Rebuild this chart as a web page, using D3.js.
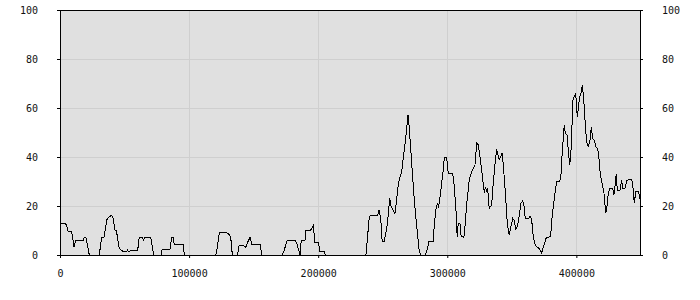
<!DOCTYPE html>
<html>
<head>
<meta charset="utf-8">
<script src="https://cdn.jsdelivr.net/npm/d3@7"></script>
<style>
  body { margin: 0; background: #fff; }
  .tick text { font-family: "DejaVu Sans Mono", monospace; font-size: 10px; fill: #111; }
</style>
</head>
<body>
<script>
(function(){

// positions along the x axis (units) and the values there
var xs = [
    0, 3900, 5200, 6400, 9100, 10800, 12400, 18000, 18800, 20100, 22700,
    30400, 32300, 34100, 36200, 38000, 40000, 41100, 42600, 43600, 45900, 49000,
    51700, 52400, 53400, 55000, 60200, 61400, 63700, 64800, 65800, 70300, 72600,
    78200, 79200, 85200, 86500, 87800, 88500, 95500, 96300,
    120600, 121800, 123400, 129100, 130900, 132200, 133500,
    137600, 138700, 142500, 143800, 145900, 147200, 148700, 155500, 155900,
    172200, 173700, 176100, 182300, 183800, 185900, 186900, 189800, 190600,
    194200, 195200, 196200, 197500, 200100, 201400, 204700, 205500,
    237000, 239600, 240700, 246100, 247300, 248600, 249600, 251000, 253100,
    254300, 255400, 256200, 258200, 259500, 260300, 262000, 263400, 264700,
    265900, 267200, 268600, 269600, 270300, 271300, 272900, 274200, 275500,
    276800, 278300, 279400, 282700, 284000, 285800, 289200, 289900, 291300,
    292300, 293300, 294600, 296100, 296900, 297700, 299500, 300800, 304200,
    305200, 306700, 307700, 308500, 309800, 310800, 312900, 313700, 315000,
    317000, 318900, 320700, 321400, 322800, 324000, 325300, 326700, 327900,
    328700, 329400, 330500, 331300, 332500, 334400, 335600, 337000, 338300,
    339100, 340300, 341400, 342600, 343900, 345200, 346500, 348000, 349300,
    350700, 351700, 353200, 354500, 355800, 357100, 358400, 359400, 360400,
    363100, 364100, 365400, 366600, 368200, 369700, 371300, 373100, 374900,
    376500, 377800, 379600, 380300, 381300, 382100, 383400, 384700, 386500,
    387300, 388100, 389100, 390100, 390600, 391400, 392700, 393700, 394800,
    395600, 396400, 397100, 398200, 399500, 400700, 401500, 402600, 403600,
    404600, 405400, 406200, 406900, 408000, 409200, 410500, 411600, 412600,
    413900, 415000, 416500, 417500, 418500, 420100, 421400, 422200, 422700,
    423700, 424700, 426000, 428100, 429100, 429900, 430900, 431700, 433800,
    435100, 435900, 437700, 439000, 440200, 442300, 443300, 444100, 444900,
    446000, 448000, 449300
];
var ys = [
    13, 13, 12, 9.5, 9.5, 3.4, 6.1, 6.1, 7.2, 7.2, 0,
    0, 7.2, 7.2, 14.3, 15.6, 16.2, 15, 10.2, 10.2, 2.7, 1.4,
    1.4, 2, 1.2, 2, 2, 7.2, 7.2, 6.1, 7.2, 7.2, 0,
    0, 2.3, 2.3, 7.2, 7.2, 4.1, 4.1, 0,
    0, 2.7, 9.2, 9.2, 8.4, 7.5, 0,
    0, 3.8, 3.8, 3.1, 5.8, 7.2, 4.1, 4.1, 0,
    0, 2, 6.1, 6.1, 4.1, 0, 6.1, 6.1, 10.2,
    10.2, 10.9, 12, 5.3, 5.3, 1.4, 1.4, 0,
    0, 15.6, 16.3, 16.3, 18.5, 13.6, 5.4, 5.4, 10.9,
    16.3, 23.1, 20.4, 18, 17, 20.4, 28.6, 32, 34,
    39.5, 44.9, 51.7, 57.1, 53.7, 46.3, 34, 24.5, 16.3,
    9.5, 1.4, 0, 0, 1.4, 5.4, 5.4, 12.2, 19,
    21, 19.7, 24.5, 31.3, 34.7, 39.8, 39.8, 33.1, 33.1,
    29.2, 19, 7.2, 12.9, 12.9, 7.5, 7.2, 11.6, 20.4,
    30.6, 34, 35.8, 36.3, 45.8, 44.9, 40.1, 34.7, 28.6,
    25.4, 27.6, 26.3, 27.2, 19, 20.4, 29.2, 37.4, 43.1,
    41.2, 39, 40.1, 41.8, 33.3, 23.8, 12.9, 8.2, 11.6,
    14.9, 14.3, 10.5, 12.2, 16.3, 21.1, 22, 20.4, 14.9,
    14.9, 15.9, 14.3, 7.5, 4.1, 3.1, 2.7, 0.9, 4.1,
    6.8, 7.2, 7.5, 9.5, 16.3, 19.7, 25.2, 29.9, 29.9,
    30.6, 32.7, 42.2, 49, 53.1, 49.7, 49.2, 42.9, 36.7,
    40.1, 48.3, 62.6, 64.6, 66, 56.5, 59.9, 64.6, 66,
    69.4, 65.3, 59.9, 53.1, 46.3, 44.2, 46.3, 52.4, 47.6,
    46.9, 44.2, 43.5, 39.5, 33.3, 28.6, 25.2, 20.4, 17,
    19.7, 25.2, 27.2, 27.2, 24.5, 27.9, 32.9, 26.5, 26.5,
    30.6, 27.2, 27.2, 30.3, 30.6, 30.9, 29.9, 26.5, 21.1,
    25.9, 25.9, 23.1
];
var xTicks = [0, 100000, 200000, 300000, 400000];
var yTicks = [0, 20, 40, 60, 80, 100];
var xMax = 449300, yMax = 100;

var width = 700, height = 300,
    margin = {top: 10, right: 60, bottom: 45, left: 60},
    innerW = width - margin.left - margin.right,
    innerH = height - margin.top - margin.bottom;

var svg = d3.select("body").append("svg")
    .attr("width", width)
    .attr("height", height);

var g = svg.append("g")
    .attr("transform", "translate(" + margin.left + "," + margin.top + ")");

var x = d3.scaleLinear().domain([0, xMax]).range([0, innerW]);
var y = d3.scaleLinear().domain([0, yMax]).range([innerH, 0]);

// plot background
g.append("rect")
    .attr("width", innerW)
    .attr("height", innerH)
    .style("fill", "#e0e0e0");

// grid lines
g.selectAll(".vgrid").data(xTicks).enter().append("line")
    .attr("x1", d => Math.round(x(d)) + 0.5).attr("x2", d => Math.round(x(d)) + 0.5)
    .attr("y1", 0).attr("y2", innerH)
    .style("stroke", "#cfcfcf");
g.selectAll(".hgrid").data(yTicks).enter().append("line")
    .attr("y1", d => Math.round(y(d)) + 0.5).attr("y2", d => Math.round(y(d)) + 0.5)
    .attr("x1", 0).attr("x2", innerW)
    .style("stroke", "#cfcfcf");

// the series, drawn without smoothing like the original
var pts = xs.map((v, i) => [v, ys[i]]);
var line = d3.line()
    .x(d => x(d[0]))
    .y(d => y(d[1]));
g.append("path")
    .datum(pts)
    .attr("d", line)
    .attr("shape-rendering", "crispEdges")
    .style("fill", "none")
    .style("stroke", "#000")
    .style("stroke-width", 1);

// frame
g.append("rect")
    .attr("x", 0.5).attr("y", 0.5)
    .attr("width", innerW).attr("height", innerH)
    .style("fill", "none")
    .style("stroke", "#000")
    .attr("shape-rendering", "crispEdges");

// axes
var fmt = d3.format("d");
g.append("g")
    .attr("transform", "translate(0," + innerH + ")")
    .call(d3.axisBottom(x).tickValues(xTicks).tickFormat(fmt).tickSize(3).tickPadding(12))
    .call(a => a.select(".domain").remove());
g.append("g")
    .call(d3.axisLeft(y).tickValues(yTicks).tickFormat(fmt).tickSize(3).tickPadding(19))
    .call(a => a.select(".domain").remove());
g.append("g")
    .attr("transform", "translate(" + innerW + ",0)")
    .call(d3.axisRight(y).tickValues(yTicks).tickFormat(fmt).tickSize(3).tickPadding(19))
    .call(a => a.select(".domain").remove());

})();
</script>
</body>
</html>
